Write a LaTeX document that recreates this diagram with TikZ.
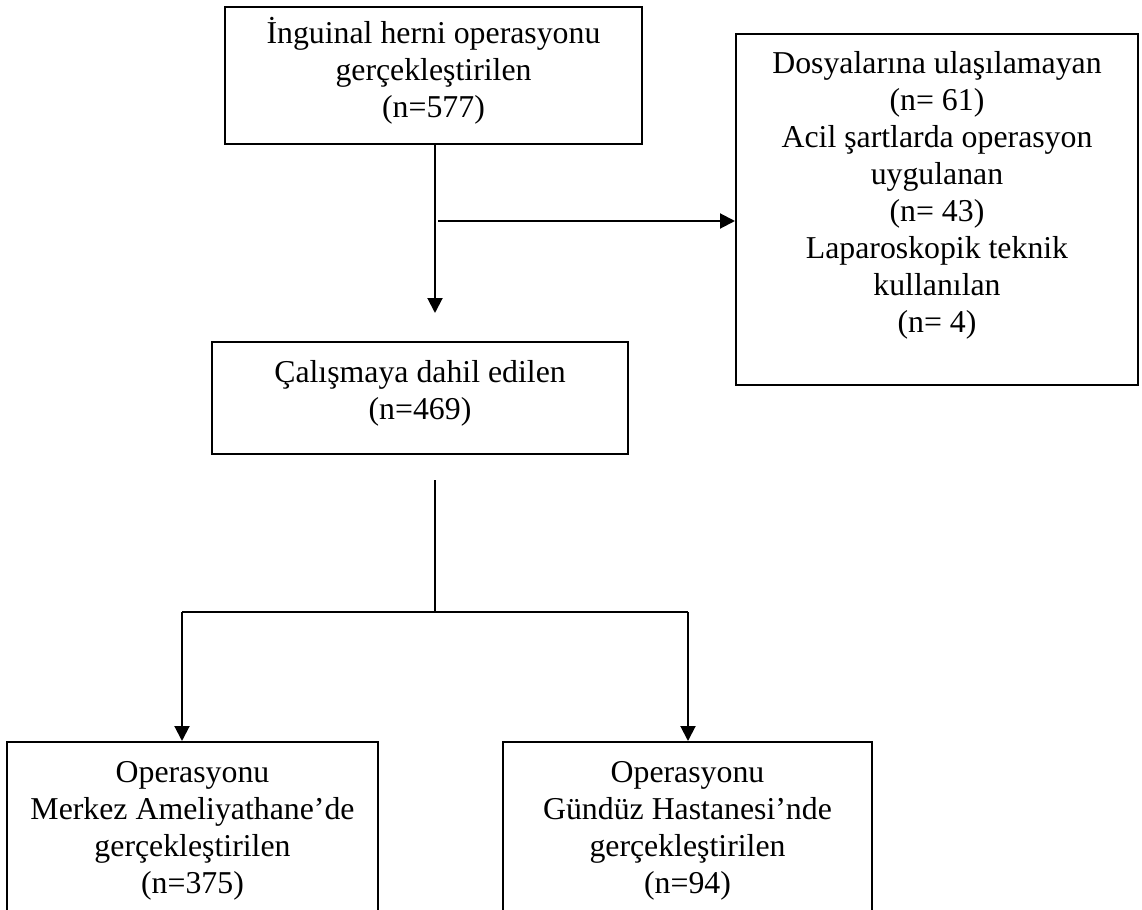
\documentclass[tikz,border=0pt]{standalone}
\usepackage{fontspec}
\setmainfont{Liberation Serif}
\usetikzlibrary{arrows.meta}
\tikzset{
  box/.style={draw, line width=1pt, inner sep=0pt, align=center,
    font=\fontsize{15.9}{18.5}\selectfont},
  arr/.style={line width=1pt, -{Triangle[width=7.5pt,length=7.5pt]}},
  ln/.style={line width=1pt}
}
\begin{document}
\begin{tikzpicture}[x=0.5pt,y=-0.5pt]
\useasboundingbox (0,0) rectangle (1142,910);
\node[box, minimum width=208.5pt, minimum height=68.5pt, text depth=8.4pt] (top) at (433.5,75.5)
  {İnguinal herni operasyonu\\gerçekleştirilen\\(n=577)};
\node[box, minimum width=201pt, minimum height=175.5pt, text depth=17.4pt] (right) at (937,209.5)
  {Dosyalarına ulaşılamayan\\(n= 61)\\Acil şartlarda operasyon\\uygulanan\\(n= 43)\\Laparoskopik teknik\\kullanılan\\(n= 4)};
\node[box, minimum width=208pt, minimum height=56pt, text depth=7.8pt] (mid) at (420,398)
  {Çalışmaya dahil edilen\\(n=469)};
\node[box, minimum width=185.5pt, minimum height=89pt] (bl) at (192.5,831)
  {Operasyonu\\Merkez Ameliyathane’de\\gerçekleştirilen\\(n=375)};
\node[box, minimum width=184.5pt, minimum height=89pt] (br) at (687.5,831)
  {Operasyonu\\Gündüz Hastanesi’nde\\gerçekleştirilen\\(n=94)};
\coordinate (a1) at (435,313);
\coordinate (h0) at (438,221);
\coordinate (m0) at (435,480);
\coordinate (m1) at (435,612);
\coordinate (jl) at (182,612);
\coordinate (jr) at (688,612);
\draw[arr] (top.south -| a1) -- (a1);
\draw[arr] (h0) -- (h0 -| right.west);
\draw[ln] (m0) -- (m1);
\draw[ln] (jl) -- (jr);
\draw[arr] (jl) -- (jl |- bl.north);
\draw[arr] (jr) -- (jr |- br.north);
\end{tikzpicture}
\end{document}
